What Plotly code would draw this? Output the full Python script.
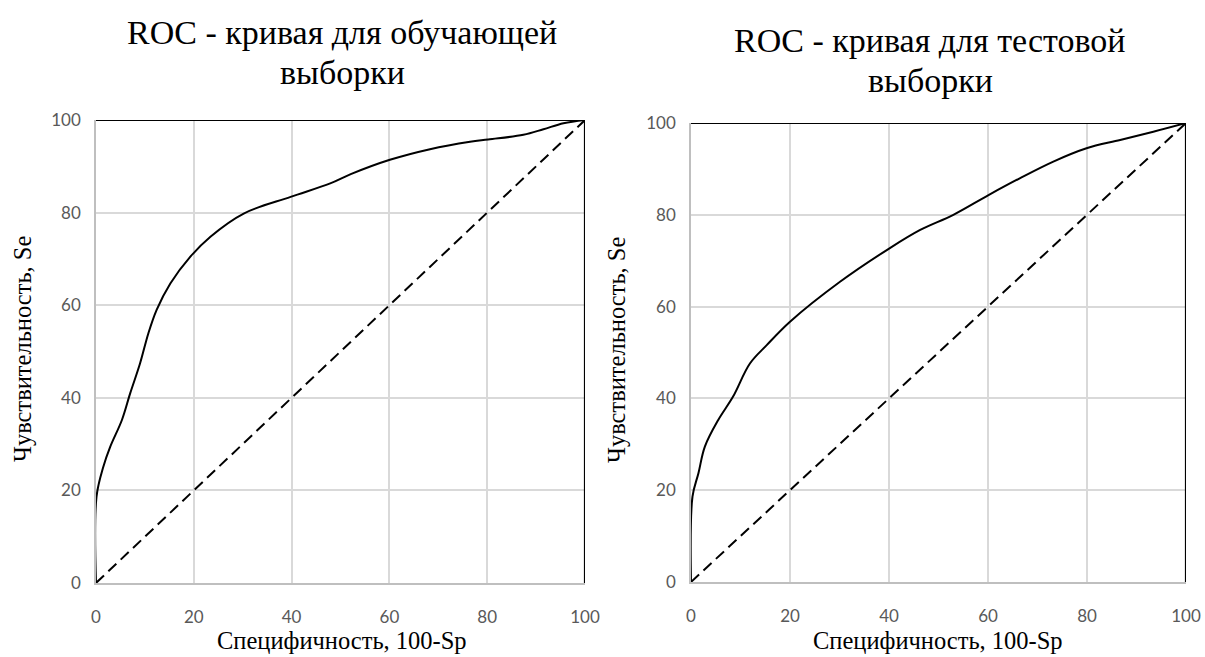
import plotly.graph_objects as go

# Training sample ROC (100-Sp, Se)
x_train = [0, 0.1, 1.5, 2.9, 5.3, 7.0, 9.0, 10.7, 12.4, 15.2, 19.3, 23.4, 30.2, 39.8, 47.9, 52.1,
           60.1, 68.3, 76.5, 80.2, 87.4, 91.5, 95.6, 100]
y_train = [0, 18.6, 25.1, 29.4, 35.2, 41.0, 47.4, 53.9, 59.0, 64.7, 70.5, 74.8, 79.8, 83.4, 86.3, 88.3,
           91.4, 93.7, 95.3, 95.8, 96.8, 98.0, 99.3, 100]

# Test sample ROC
x_test = [0, 0.3, 1.5, 2.8, 5.5, 8.5, 11.9, 15.3, 20, 30.1, 40.1, 46.3, 53, 60.1, 66.5, 73.2,
          79.9, 86.7, 93.4, 100]
y_test = [0, 18.6, 23.7, 29.5, 35.3, 40.4, 47.6, 51.6, 56.7, 65.4, 72.7, 76.7, 80, 84.3, 88, 91.6,
          94.5, 96.3, 98.1, 100]

# Reference diagonal and frame line
x_diag = [0, 100]
y_diag = [0, 100]
x_frame = [0, 100, 100]
y_frame = [100, 100, 0]

tick_vals = [0, 20, 40, 60, 80, 100]
tick_text = ["0", "20", "40", "60", "80", "100"]

titles = ["ROC - кривая для обучающей", "ROC - кривая для тестовой"]
title_line2 = "выборки"
x_title = "Специфичность, 100-Sp"
y_title = "Чувствительность, Se"

W, H = 1205, 657
SERIF = "Liberation Serif"
SANS = "Lato"

fig = go.Figure()
for i, (xs, ys) in enumerate([(x_train, y_train), (x_test, y_test)]):
    xa = "x" if i == 0 else "x2"
    ya = "y" if i == 0 else "y2"
    fig.add_trace(go.Scatter(x=x_frame, y=y_frame, mode="lines", xaxis=xa, yaxis=ya,
                             line=dict(color="black", width=2.2), showlegend=False, hoverinfo="skip"))
    fig.add_trace(go.Scatter(x=x_diag, y=y_diag, mode="lines", xaxis=xa, yaxis=ya,
                             line=dict(color="black", width=2, dash="11px,6px"), showlegend=False))
    fig.add_trace(go.Scatter(x=xs, y=ys, mode="lines", xaxis=xa, yaxis=ya,
                             line=dict(color="black", width=2, shape="spline", smoothing=1.0),
                             showlegend=False))

def px_x(p):
    return p / W

def px_y(p):
    return 1 - p / H

axis_common = dict(range=[0, 100], tickvals=tick_vals, ticktext=tick_text, automargin=False,
                   showgrid=True, gridcolor="#d9d9d9", gridwidth=1.5,
                   showline=True, linecolor="#bfbfbf", linewidth=1.5,
                   zeroline=False, ticks="outside", tickcolor="rgba(0,0,0,0)",
                   tickfont=dict(family=SANS, size=17, color="#595959"), fixedrange=True)

fig.update_layout(
    width=W, height=H,
    margin=dict(l=0, r=0, t=0, b=0),
    paper_bgcolor="white", plot_bgcolor="white",
    xaxis=dict(domain=[px_x(96), px_x(585)], anchor="y", ticklen=18, **axis_common),
    yaxis=dict(domain=[px_y(583), px_y(120)], anchor="x", ticklen=10, **axis_common),
    xaxis2=dict(domain=[px_x(691), px_x(1186)], anchor="y2", ticklen=18, **axis_common),
    yaxis2=dict(domain=[px_y(582), px_y(123)], anchor="x2", ticklen=10, **axis_common),
)

anns = []
# titles
for cx, y1, t in [(342, 32, titles[0]), (930, 40, titles[1])]:
    anns.append(dict(text=t, x=px_x(cx), y=px_y(y1), xref="paper", yref="paper",
                     xanchor="center", yanchor="middle", showarrow=False,
                     font=dict(family=SERIF, size=34, color="black")))
    anns.append(dict(text=title_line2, x=px_x(cx), y=px_y(y1 + 40), xref="paper", yref="paper",
                     xanchor="center", yanchor="middle", showarrow=False,
                     font=dict(family=SERIF, size=34, color="black")))
# axis titles
for cx in [342, 938]:
    anns.append(dict(text=x_title, x=px_x(cx), y=px_y(640), xref="paper", yref="paper",
                     xanchor="center", yanchor="middle", showarrow=False,
                     font=dict(family=SERIF, size=24.5, color="black")))
for cx, cy in [(22, 349), (616, 350)]:
    anns.append(dict(text=y_title, x=px_x(cx), y=px_y(cy), xref="paper", yref="paper",
                     xanchor="center", yanchor="middle", showarrow=False, textangle=-90,
                     font=dict(family=SERIF, size=24.5, color="black")))
fig.update_layout(annotations=anns)

fig.write_html("out.html", config={"displayModeBar": False},
               post_script="document.body.style.margin='0';document.body.style.overflow='hidden';")
